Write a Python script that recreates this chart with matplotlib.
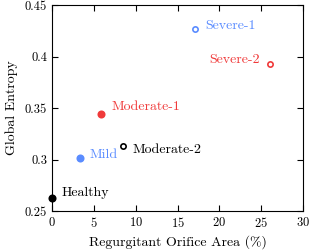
import matplotlib
matplotlib.use("Agg")
import matplotlib.pyplot as plt

plt.rcParams['font.family'] = ['cmr10', 'DejaVu Serif']
plt.rcParams['mathtext.fontset'] = 'cm'
plt.rcParams['axes.formatter.use_mathtext'] = True

names = ["Healthy", "Mild", "Moderate-1", "Moderate-2", "Severe-1", "Severe-2"]
roa = [0.0, 3.3, 5.9, 8.5, 17.1, 26.1]
entropy = [0.263, 0.301, 0.344, 0.313, 0.427, 0.393]
colors = ["black", "#5a8cff", "#f03a3a", "black", "#5a8cff", "#f03a3a"]
filled = [True, True, True, False, False, False]
label_dx = [10, 10, 10, 9, 10, -10]
label_dy = [5, 4, 7, -4, 3, 4]

fig = plt.figure(figsize=(3.09, 2.5), dpi=100)
ax = fig.add_axes([52/309, 1-211/250, 251/309, 206/250])
for n, x, y, c, f, dx, dy in zip(names, roa, entropy, colors, filled, label_dx, label_dy):
    ax.plot([x], [y], 'o', ms=4.6 if f else 3.8, mfc=c if f else 'white', mec=c,
            mew=1.2, clip_on=False, zorder=3)
    ax.annotate(n, (x, y), xytext=(dx, dy), textcoords='offset pixels',
                ha='left' if dx > 0 else 'right', va='center', color=c, fontsize=10)

ax.set_xlim(0, 30)
ax.set_ylim(0.25, 0.45)
ax.set_xticks([0, 5, 10, 15, 20, 25, 30])
ax.set_yticks([0.25, 0.3, 0.35, 0.4, 0.45])
ax.set_yticklabels(["0.25", "0.3", "0.35", "0.4", "0.45"])
ax.tick_params(direction='in', top=True, right=True, labelsize=9, length=4)
ax.set_xlabel("Regurgitant Orifice Area (%)", fontsize=10)
ax.set_ylabel("Global Entropy", fontsize=10, labelpad=5)
fig.savefig("out.png", dpi=100)
